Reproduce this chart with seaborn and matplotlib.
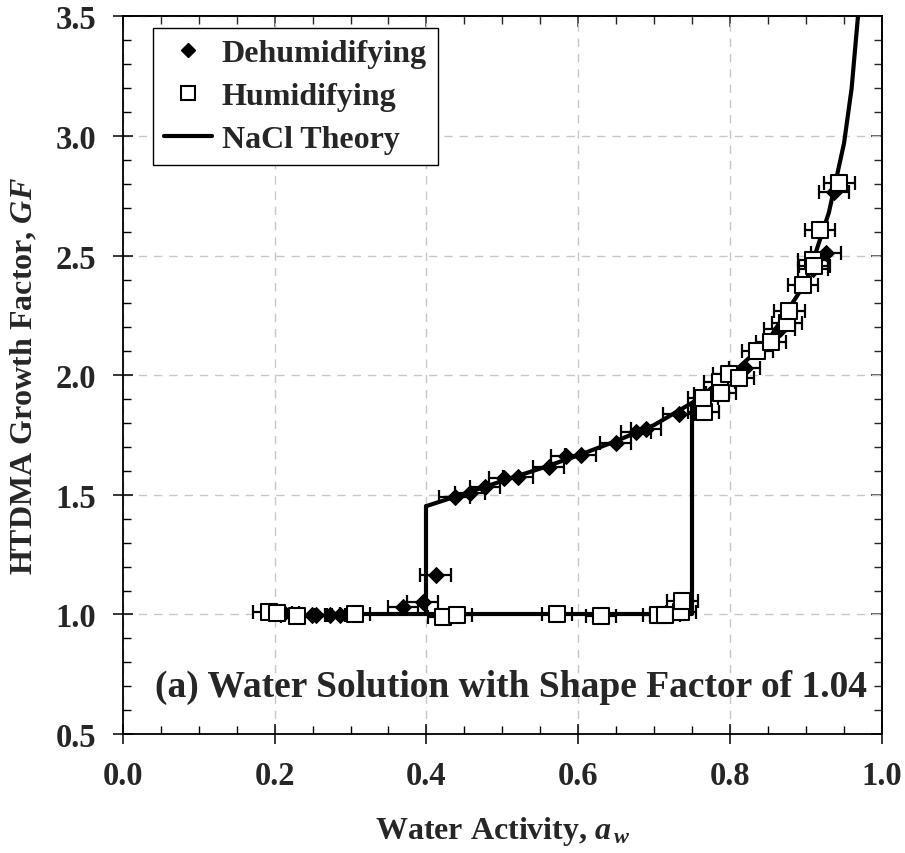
import matplotlib
matplotlib.use("Agg")
from matplotlib import pyplot as plt
from matplotlib.lines import Line2D
from matplotlib.ticker import MultipleLocator
import seaborn as sns
import pandas as pd

# Style first, fonts after (set_theme resets font.family)
sns.set_theme(style="ticks")
plt.rcParams['font.family'] = ['Liberation Serif', 'DejaVu Serif']
plt.rcParams['font.weight'] = 'bold'
plt.rcParams['mathtext.fontset'] = 'custom'
plt.rcParams['mathtext.rm'] = 'Liberation Serif:bold'
plt.rcParams['mathtext.it'] = 'Liberation Serif:italic:bold'

dehum_aw = [0.937, 0.926, 0.909, 0.865, 0.819, 0.773, 0.732, 0.689, 0.676,
            0.649, 0.603, 0.584, 0.561, 0.521, 0.502, 0.477, 0.457, 0.437,
            0.412, 0.395, 0.369, 0.286, 0.273, 0.255, 0.249, 0.212]
dehum_gf = [2.765, 2.510, 2.444, 2.195, 2.030, 1.922, 1.838, 1.776, 1.762,
            1.717, 1.667, 1.661, 1.618, 1.576, 1.571, 1.534, 1.508, 1.490,
            1.166, 1.051, 1.030, 0.998, 0.998, 0.998, 0.998, 1.005]

# Humidifying measurements
hum_aw = [0.192, 0.203, 0.229, 0.306, 0.422, 0.440, 0.572, 0.630, 0.705,
          0.714, 0.735, 0.737, 0.765, 0.764, 0.786, 0.788, 0.798, 0.812,
          0.836, 0.854, 0.875, 0.878, 0.896, 0.909, 0.911, 0.918, 0.944]
hum_gf = [1.010, 1.008, 0.995, 1.000, 0.990, 0.997, 1.001, 0.994, 0.997,
          0.997, 1.012, 1.057, 1.845, 1.905, 1.970, 1.926, 2.005, 1.989,
          2.103, 2.137, 2.219, 2.270, 2.378, 2.482, 2.458, 2.608, 2.804]

aw_err = 0.02

# NaCl theory: solution branch, deliquescence step, efflorescence step
curve_aw = [0.40, 0.45, 0.50, 0.55, 0.60, 0.65, 0.70, 0.75, 0.80, 0.85,
            0.90, 0.93, 0.95, 0.96, 0.97]
curve_gf = [1.453, 1.505, 1.558, 1.610, 1.665, 1.725, 1.792, 1.885, 2.000,
            2.145, 2.390, 2.680, 2.970, 3.200, 3.560]
deliq_aw = [0.30, 0.75, 0.75]
deliq_gf = [1.00, 1.00, 1.885]
efflo_aw = [0.40, 0.40]
efflo_gf = [1.00, 1.453]

theory = pd.concat([
    pd.DataFrame({'aw': curve_aw, 'gf': curve_gf, 'seg': 'curve'}),
    pd.DataFrame({'aw': deliq_aw, 'gf': deliq_gf, 'seg': 'deliq'}),
    pd.DataFrame({'aw': efflo_aw, 'gf': efflo_gf, 'seg': 'efflo'}),
], ignore_index=True)
dehum = pd.DataFrame({'aw': dehum_aw, 'gf': dehum_gf})
hum = pd.DataFrame({'aw': hum_aw, 'gf': hum_gf})

fig, ax = plt.subplots(figsize=(9.05, 8.54), dpi=100)
fig.subplots_adjust(left=0.1356, right=0.9746, bottom=0.1393, top=0.9796)

# theory line
sns.lineplot(data=theory, x='aw', y='gf', units='seg', estimator=None,
             sort=False, color='black', linewidth=3.0, ax=ax, zorder=3,
             legend=False)

# error bars under the markers
for d in (dehum, hum):
    ax.errorbar(d['aw'], d['gf'], xerr=aw_err, fmt='none', ecolor='black',
                elinewidth=1.6, capsize=5, capthick=1.6, zorder=2)

sns.scatterplot(data=dehum, x='aw', y='gf', marker='D', s=65, color='black',
                edgecolor='black', linewidth=0.8, ax=ax, zorder=4)
sns.scatterplot(data=hum, x='aw', y='gf', marker='s', s=125, color='white',
                edgecolor='black', linewidth=1.5, ax=ax, zorder=5)

ax.set_xlim(0.0, 1.0)
ax.set_ylim(0.5, 3.5)
ax.xaxis.set_major_locator(MultipleLocator(0.2))
ax.xaxis.set_minor_locator(MultipleLocator(0.05))
ax.yaxis.set_major_locator(MultipleLocator(0.5))
ax.yaxis.set_minor_locator(MultipleLocator(0.1))
ax.xaxis.set_major_formatter(lambda v, p: f'{v:.1f}')
ax.yaxis.set_major_formatter(lambda v, p: f'{v:.1f}')

ax.grid(True, which='major', linestyle=(0, (6, 5)), color='#c8c8c8',
        linewidth=1.0, zorder=0)
ax.set_axisbelow(True)

for sp in ax.spines.values():
    sp.set_color('black')
    sp.set_linewidth(1.3)

ax.tick_params(which='major', direction='inout', length=14, width=1.1,
               color='black', labelsize=23.5, pad=12)
ax.tick_params(which='minor', direction='in', length=6, width=1.0,
               color='black')

# inward ticks on top and right
top = ax.secondary_xaxis('top')
top.xaxis.set_major_locator(MultipleLocator(0.2))
top.xaxis.set_minor_locator(MultipleLocator(0.05))
top.tick_params(which='major', direction='in', length=8, width=1.1,
                labeltop=False)
top.tick_params(which='minor', direction='in', length=6, width=1.0)
right = ax.secondary_yaxis('right')
right.yaxis.set_major_locator(MultipleLocator(0.5))
right.yaxis.set_minor_locator(MultipleLocator(0.1))
right.tick_params(which='major', direction='in', length=8, width=1.1,
                  labelright=False)
right.tick_params(which='minor', direction='in', length=6, width=1.0)

ax.set_xlabel(r'Water Activity, $a_{\,w}$', fontsize=23, fontweight='bold',
              labelpad=16)
ax.set_ylabel(r'HTDMA Growth Factor, $GF$', fontsize=23, fontweight='bold',
              labelpad=12)

ax.text(0.512, 0.70, '(a) Water Solution with Shape Factor of 1.04',
        fontsize=27, fontweight='bold', ha='center', va='center', zorder=6)

handles = [
    Line2D([], [], marker='D', color='black', linestyle='none', markersize=7),
    Line2D([], [], marker='s', markerfacecolor='white', markeredgecolor='black',
           markeredgewidth=1.5, linestyle='none', markersize=9.5),
    Line2D([], [], color='black', linewidth=3.0),
]
leg = ax.legend(handles, ['Dehumidifying', 'Humidifying', 'NaCl Theory'],
                loc='upper left', bbox_to_anchor=(0.040, 0.984),
                borderaxespad=0, fontsize=23, frameon=True, fancybox=False,
                framealpha=1, edgecolor='black', handlelength=1.5,
                handletextpad=0.3, labelspacing=0.42, borderpad=0.35)
leg.get_frame().set_linewidth(1.0)
for t in leg.get_texts():
    t.set_fontweight('bold')

plt.savefig('out.png', dpi=100)
